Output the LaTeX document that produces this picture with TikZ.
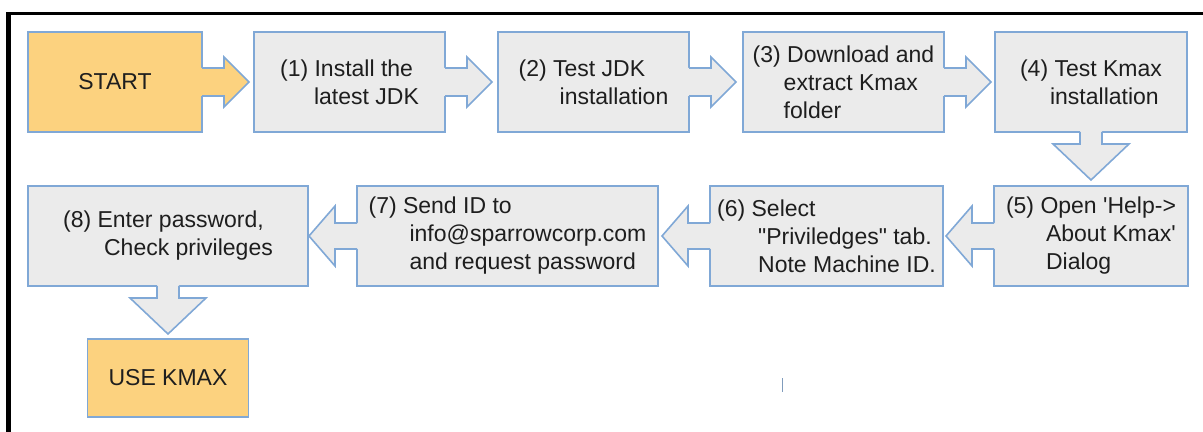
\documentclass[tikz,border=0pt]{standalone}
\usepackage{fontspec}
\setmainfont{Liberation Sans}
\usepackage{tikz}
\usetikzlibrary{positioning}

\definecolor{boxgray}{HTML}{EBEBEB}
\definecolor{startorange}{HTML}{FCD27F}
\definecolor{edgeblue}{HTML}{80A8D6}
\definecolor{inkgray}{HTML}{1E1E1E}

\newcommand{\fatright}[2]{%
  \fill[#2] ([xshift=-1pt]#1.east) ++(0,-14) -- ++(24,0) -- ++(0,-11) -- ++(25,25) -- ++(-25,25) -- ++(0,-11) -- ++(-24,0) -- cycle;
  \draw[arrowline] (#1.east) ++(0,-14) -- ++(22,0) -- ++(0,-11) -- ++(25,25) -- ++(-25,25) -- ++(0,-11) -- ++(-22,0);}
\newcommand{\fatleft}[2]{%
  \fill[#2] ([xshift=1pt]#1.west) ++(0,-13) -- ++(-24,0) -- ++(0,-17) -- ++(-26,30) -- ++(26,30) -- ++(0,-17) -- ++(24,0) -- cycle;
  \draw[arrowline] (#1.west) ++(0,-13) -- ++(-22,0) -- ++(0,-17) -- ++(-26,30) -- ++(26,30) -- ++(0,-17) -- ++(22,0);}
\newcommand{\fatdown}[2]{%
  \fill[#2] ([yshift=1pt]#1.south) ++(-11,0) -- ++(0,14) -- ++(-27,0) -- ++(38,36) -- ++(38,-36) -- ++(-27,0) -- ++(0,-14) -- cycle;
  \draw[arrowline] (#1.south) ++(-11,0) -- ++(0,12) -- ++(-27,0) -- ++(38,36) -- ++(38,-36) -- ++(-27,0) -- ++(0,-12);}

\begin{document}
\begin{tikzpicture}[x=0.5pt, y=-0.5pt,
    stepbox/.style = {draw=edgeblue, line width=0.8pt, fill=boxgray, text=inkgray,
      minimum height=50pt, inner xsep=2pt, outer sep=0pt, align=left,
      font=\fontsize{11.5}{14}\selectfont},
    endbox/.style = {stepbox, fill=startorange, align=center},
    arrowline/.style = {draw=edgeblue, line width=0.8pt, line join=miter}]
  \useasboundingbox (0,0) rectangle (1203,432);

  \draw[line width=2.5pt] (8.8,432) -- (8.8,12);
  \draw[line width=1.5pt] (6,13.5) -- (1203,13.5);

  \node[endbox, minimum width=87pt] (start) at (115,82) {START};
  \node[stepbox, minimum width=95.5pt, right=26pt of start] (b1)
    {(1) Install the\\\hspace*{17pt}latest JDK};
  \node[stepbox, minimum width=95.5pt, right=26.5pt of b1] (b2)
    {(2) Test JDK\\\hspace*{20.5pt}installation};
  \node[stepbox, minimum width=100.5pt, right=27pt of b2] (b3)
    {(3) Download and\\\hspace*{15.5pt}extract Kmax\\\hspace*{15.5pt}folder};
  \node[stepbox, minimum width=96pt, right=25.5pt of b3] (b4)
    {(4) Test Kmax\\\hspace*{15pt}installation};

  \node[stepbox, minimum width=97pt, below=27pt of b4] (b5)
    {(5) Open \textquotesingle Help->\\\hspace*{20pt}About Kmax\textquotesingle\\\hspace*{20pt}Dialog};
  \node[stepbox, minimum width=116.5pt, left=25.5pt of b5] (b6)
    {(6) Select\\\hspace*{20.5pt}\textquotedbl Priviledges\textquotedbl\ tab.\\\hspace*{20.5pt}Note Machine ID.};
  \node[stepbox, minimum width=150.5pt, left=26pt of b6] (b7)
    {(7) Send ID to\\\hspace*{20.5pt}info@sparrowcorp.com\\\hspace*{20.5pt}and request password};
  \node[stepbox, minimum width=140pt, left=24.5pt of b7] (b8)
    {(8) Enter password,\\\hspace*{20.5pt}Check privileges};
  \node[endbox, minimum width=80.5pt, minimum height=39pt, below=26.5pt of b8] (use) {USE KMAX};

  \fatright{start}{startorange}
  \fatright{b1}{boxgray}
  \fatright{b2}{boxgray}
  \fatright{b3}{boxgray}
  \fatdown{b4}{boxgray}
  \fatleft{b5}{boxgray}
  \fatleft{b6}{boxgray}
  \fatleft{b7}{boxgray}
  \fatdown{b8}{boxgray}

  \draw[edgeblue!70!gray, line width=0.8pt] (782.5,378) -- (782.5,392);
\end{tikzpicture}
\end{document}
